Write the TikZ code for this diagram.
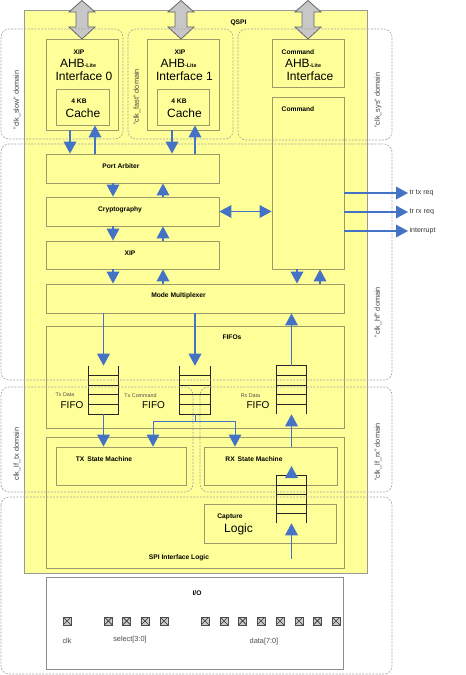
\documentclass[tikz,border=0pt]{standalone}
\usepackage{fontspec}
\setmainfont{Liberation Sans}
\usetikzlibrary{arrows.meta,fit,calc}

\definecolor{qspiyellow}{RGB}{255,255,153}
\definecolor{qspiedge}{RGB}{155,155,105}
\definecolor{qspiblue}{RGB}{68,114,196}

\begin{document}
\begin{tikzpicture}[x=0.75pt,y=-0.75pt,
    blk/.style={draw=qspiedge,fill=qspiyellow,line width=0.6pt,inner sep=0pt},
    lbl/.style={font=\bfseries\fontsize{5}{6}\selectfont,inner sep=0pt},
    big/.style={font=\fontsize{9}{10}\selectfont,inner sep=0pt},
    mid/.style={font=\fontsize{7.5}{8}\selectfont,inner sep=0pt},
    tiny/.style={font=\fontsize{4}{5}\selectfont,text=black!70,inner sep=0pt},
    dom/.style={draw=black!35,line width=0.5pt,dash pattern=on 1.5pt off 1pt,rounded corners=6pt},
    domlbl/.style={font=\fontsize{5.5}{6}\selectfont,text=black!75,rotate=90,inner sep=0pt},
    flow/.style={draw=qspiblue,line width=1pt,-{Triangle[length=9pt,width=9.5pt]}},
    bus/.style={draw=black!60,fill=black!22,line width=0.6pt},
    stack/.style={draw=black!85,line width=0.8pt},
    sig/.style={font=\fontsize{5.3}{6}\selectfont,text=black!80,inner sep=1pt},
    iopad/.style={draw=black!70,fill=black!20,minimum size=6pt,inner sep=0pt,line width=0.6pt,
      path picture={\draw[black!80,line width=0.5pt] (path picture bounding box.north west) -- (path picture bounding box.south east)
        (path picture bounding box.south west) -- (path picture bounding box.north east);}},
    iolbl/.style={font=\fontsize{5.5}{6}\selectfont,text=black!70,inner sep=0pt},
  ]
  \useasboundingbox (0,0) rectangle (466,675);

  % QSPI block
  \node[blk,draw=black!40,fit={(24,10) (367,573)}] (qspi) {};
  \node[lbl] (qspit) at (238.5,22.5) {QSPI};

  % AHB buses (gray double arrows)
  \foreach \x in {82,181,308}
    \draw[bus,shift={(\x,0)}] (0,0.5) -- (13,12) -- (6,12) -- (6,27) -- (13,27) -- (0,39)
      -- (-13,27) -- (-6,27) -- (-6,12) -- (-13,12) -- cycle;

  % AHB interfaces
  \node[blk,fit={(46,39) (118,130)}] (xip0) {};
  \node[blk,fit={(56,89) (109,125)}] (cache0) {};
  \node[blk,fit={(147,39) (219,130)}] (xip1) {};
  \node[blk,fit={(157,89) (209,125)}] (cache1) {};
  \node[blk,fit={(272,39) (344,87)}] (cmdif) {};
  \node[blk,fit={(272,97) (344,269)}] (cmd) {};

  % datapath
  \node[blk,fit={(46,154) (219,183)}] (arb) {};
  \node[blk,fit={(46,197) (219,226)}] (cry) {};
  \node[blk,fit={(46,241) (219,269)}] (xipc) {};
  \node[blk,fit={(46,284) (344,313)}] (mux) {};
  \node[blk,fit={(46,326) (344,428)}] (fifos) {};
  \node[blk,fit={(46,437) (344,568)}] (spi) {};
  \node[blk,fit={(56,447) (186,485)}] (txsm) {};
  \node[blk,fit={(204,447) (337,485)}] (rxsm) {};
  \node[blk,fit={(204,504) (336,543)}] (cap) {};

  % fifo stacks
  \node[fit={(89,366) (118,414)},inner sep=0pt] (txd) {};
  \node[fit={(180,366) (210,414)},inner sep=0pt] (txc) {};
  \node[fit={(277,366) (306,414)},inner sep=0pt] (rxd) {};
  \node[fit={(277,476) (306,523)},inner sep=0pt] (capf) {};
  \foreach \f in {txd,txc} {
    \draw[stack] (\f.north west) -- (\f.south west) -- (\f.south east) -- (\f.north east); % open top
    \foreach \k in {1,...,4}
      \draw[stack] ($(\f.north west)!\k/5!(\f.south west)$) -- ($(\f.north east)!\k/5!(\f.south east)$);
  }
  \foreach \f in {rxd,capf} {
    \draw[stack] (\f.south west) -- (\f.north west) -- (\f.north east) -- (\f.south east); % open bottom
    \foreach \k in {1,...,4}
      \draw[stack] ($(\f.north west)!\k/5!(\f.south west)$) -- ($(\f.north east)!\k/5!(\f.south east)$);
  }

  % I/O
  \node[draw=black!45,fill=white,line width=0.6pt,inner sep=0pt,fit={(46,577) (343,669)}] (io) {};
  \node[lbl] (iot) at (197,593) {I/O};
  \foreach \n/\x in {clk/67,s3/108.3,s2/126.7,s1/145,s0/164,d7/205,d6/224,d5/242.7,d4/261,d3/280,d2/299,d1/317.3,d0/336}
    \node[iopad] (pad\n) at (\x,621) {};
  \node[iolbl] (clkt) at (67,641) {clk};
  \node[iolbl] (selt) at (130,640) {select[3:0]};
  \node[iolbl] (datt) at (264,641.5) {data[7:0]};

  % clock domains
  \draw[dom] (1,29) rectangle (123,139);
  \draw[dom] (128,29) rectangle (233,139);
  \draw[dom] (238,29) rectangle (392,140);
  \draw[dom] (1,144) rectangle (392,380);
  \draw[dom] (1,387) rectangle (193,492);
  \draw[dom] (200,387) rectangle (392,492);
  \draw[dom] (1,497) rectangle (392,674);
  \node[domlbl] (dslow) at (17,100) {"clk\_slow" domain};
  \node[domlbl] (dfast) at (137,97) {"clk\_fast" domain};
  \node[domlbl] (dsys) at (378,100) {"clk\_sys" domain};
  \node[domlbl] (dhf) at (378,312) {"clk\_hf" domain};
  \node[domlbl] (dtx) at (17,454) {clk\_lf\_tx domain};
  \node[domlbl] (drx) at (378,452) {"clk\_lf\_rx" domain};

  % texts
  \node[lbl] (xip0a) at (79,52) {XIP};
  \node[big] (xip0b) at (78,63.5) {AHB{\bfseries\fontsize{4}{5}\selectfont -Lite}};
  \node[big] (xip0c) at (84,76.5) {Interface 0};
  \node[lbl] (cache0a) at (79,101) {4 KB};
  \node[big] (cache0b) at (83,113) {Cache};
  \node[lbl] (xip1a) at (180,52) {XIP};
  \node[big] (xip1b) at (178.5,63.5) {AHB{\bfseries\fontsize{4}{5}\selectfont -Lite}};
  \node[big] (xip1c) at (184.5,76.5) {Interface 1};
  \node[lbl] (cache1a) at (179,101) {4 KB};
  \node[big] (cache1b) at (184.5,113) {Cache};
  \node[lbl] (cmdifa) at (298,52) {Command};
  \node[big] (cmdifb) at (303,63.5) {AHB{\bfseries\fontsize{4}{5}\selectfont -Lite}};
  \node[big] (cmdifc) at (310,76.5) {Interface};
  \node[lbl] (cmdt) at (298,109.5) {Command};
  \node[lbl] (arbt) at (121,166) {Port Arbiter};
  \node[lbl] (cryt) at (120,210) {Cryptography};
  \node[lbl] (xipct) at (130,253) {XIP};
  \node[lbl] (muxt) at (178.5,296) {Mode Multiplexer};
  \node[lbl] (fifost) at (232,337) {FIFOs};
  \node[tiny] (txda) at (65,395) {Tx Data};
  \node[mid] (txdb) at (72,405) {FIFO};
  \node[tiny] (txca) at (140.5,396) {Tx Command};
  \node[mid] (txcb) at (153.5,405.5) {FIFO};
  \node[tiny] (rxda) at (250.5,396) {Rx Data};
  \node[mid] (rxdb) at (258,405.5) {FIFO};
  \node[lbl] (txsmt) at (104,459) {TX\, State Machine};
  \node[lbl] (rxsmt) at (254,459) {RX\, State Machine};
  \node[lbl] (capa) at (230,517) {Capture};
  \node[big] (capb) at (238.5,529.5) {Logic};
  \node[lbl] (spit) at (179,558) {SPI Interface Logic};

  % columns for the connectors
  \foreach \n/\x in {a/70,b/95,c/172,d/195,e/113,f/163,g/297,h/320}
    \coordinate (x\n) at (\x,0);
  \coordinate (spl) at (153,421); % split of the tx command fifo
  \coordinate (spr) at (235,421);
  \coordinate (capin) at (291.5,559);

  % connectors
  \draw[flow] (xip0.south -| xa) -- (arb.north -| xa);
  \draw[flow] (arb.north -| xb) -- (cache0.south -| xb);
  \draw[flow] (xip1.south -| xc) -- (arb.north -| xc);
  \draw[flow] (arb.north -| xd) -- (cache1.south -| xd);
  \draw[flow] (arb.south -| xe) -- (cry.north -| xe);
  \draw[flow] (cry.north -| xf) -- (arb.south -| xf);
  \draw[flow] (cry.south -| xe) -- (xipc.north -| xe);
  \draw[flow] (xipc.north -| xf) -- (cry.south -| xf);
  \draw[flow] (xipc.south -| xe) -- (mux.north -| xe);
  \draw[flow] (mux.north -| xf) -- (xipc.south -| xf);
  \draw[flow,{Triangle[length=9pt,width=9.5pt]}-{Triangle[length=9pt,width=9.5pt]}] (cry.east) -- (cmd.west |- cry.east);
  \draw[flow] (cmd.south -| xg) -- (mux.north -| xg);
  \draw[flow] (mux.north -| xh) -- (cmd.south -| xh);

  % requests and interrupt
  \node[sig,anchor=west] (ttx) at (408,193) {tr tx req};
  \node[sig,anchor=west] (trx) at (408,212) {tr rx req};
  \node[sig,anchor=west] (irq) at (408,231) {interrupt};
  \foreach \s in {ttx,trx,irq}
    \draw[flow] (cmd.east |- \s.west) -- (\s.west);

  % fifos
  \draw[flow] (mux.south -| txd.north) -- (txd.north);
  \draw[flow] (mux.south -| txc.north) -- (txc.north);
  \draw[flow] (rxd.north) -- (mux.south -| rxd.north);
  \draw[flow] (txd.south) -- (txsm.north -| txd.south);
  \draw[draw=qspiblue,line width=0.75pt] (txc.south) -- (txc.south |- spl) (spl) -- (spr);
  \draw[flow,line width=0.75pt] (spl) -- (txsm.north -| spl);
  \draw[flow,line width=0.75pt] (spr) -- (rxsm.north -| spr);
  \draw[flow] (rxsm.north -| rxd.south) -- (rxd.south);
  \draw[flow] (capf.north) -- (rxsm.center -| capf.north);
  \draw[flow] (capin) -- (capf.south);
\end{tikzpicture}
\end{document}
